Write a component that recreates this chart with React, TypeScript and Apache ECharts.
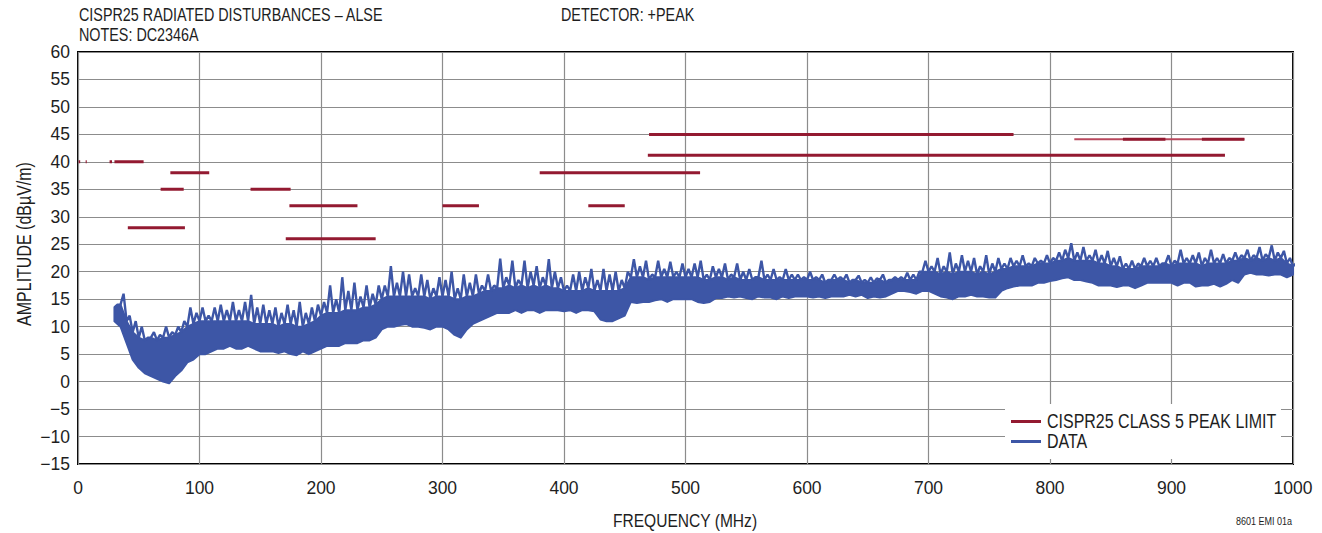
import React, { useEffect, useRef } from "react";
import * as echarts from "echarts";

// ---------- data ----------
const FREQ_START = 30; // MHz
const FREQ_STEP = 5; // MHz

// lower edge of the measured trace at each step
const dataLow = [
  11, 10, 7, 4, 2.5, 1.5, 1, 0.5, 0, -0.3,
  1, 2, 3.5, 4, 5, 5, 5.5, 6, 6, 6.5,
  6, 6, 6.5, 6, 5.5, 5.5, 5.5, 5.2, 5.5, 5,
  4.8, 5.5, 5, 5.5, 6, 6.5, 6.5, 6.5, 7, 7,
  7, 7.5, 7.5, 8, 9.5, 10, 10, 10.3, 10.5, 10,
  10, 9.8, 9.5, 10, 10, 9.5, 8.5, 8, 9.5, 10.5,
  11, 11.5, 12, 12.5, 12.5, 12.5, 13, 12.5, 13, 13,
  12.5, 13, 13, 13, 12.8, 13, 12.5, 13, 13, 12.8,
  11.3, 11, 11, 11.5, 12, 14.5, 14.3, 14.5, 14.5, 14.8,
  15, 14.5, 15, 15, 15, 15, 14.5, 14.3, 14.5, 15.2,
  15.2, 15.5, 15.3, 15.5, 15.2, 15, 15.5, 15.3, 15.3, 15,
  15.5, 15.2, 15.5, 15.5, 15.5, 15.3, 15.5, 15.2, 15.5, 15.5,
  15.5, 15.8, 15.5, 15.8, 15.2, 15.5, 15.3, 15.5, 16, 16.5,
  16.5, 16.3, 16, 16.5, 16.5, 16, 15.5, 15.3, 15, 15.5,
  15.5, 15.8, 15.5, 15.5, 15.3, 15.3, 16.5, 17, 17.3, 17.5,
  17.5, 17.5, 18, 18, 18.3, 18.5, 18.8, 19, 18.5, 18.5,
  18.2, 18, 17.5, 17.5, 17.5, 17.2, 17.5, 17.5, 17, 17.5,
  18, 18, 18, 18, 18, 17.5, 18, 18, 17.3, 17.5,
  17.5, 17.8, 17.3, 17.8, 18.5, 18, 19.5, 19.8, 19.5, 19.5,
  19.3, 19.5, 19.5, 19, 19.5,
];

// top of the dense (solid-looking) part of the trace at each step
const dataBandTop = [
  13.5, 14, 11, 9, 8, 7.5, 8, 7.5, 8, 8,
  8.5, 9, 10, 10.5, 11, 11, 11, 11, 11, 11,
  11, 11, 11, 10.5, 10.5, 10.5, 10.5, 10, 10.5, 10.5,
  10, 10, 10.5, 11, 12, 12.5, 12.5, 12.5, 13, 13,
  13, 13.5, 13.5, 14, 15, 15.5, 15.5, 15.5, 15.5, 15.5,
  15.5, 15.5, 15, 15.5, 15.5, 15.5, 15, 15, 15.5, 15.5,
  16, 16.5, 16.5, 17, 17, 17.5, 17, 17.5, 17, 17.5,
  17, 17.5, 17, 17, 16.5, 16.5, 16.5, 16.5, 17, 16.5,
  16.5, 16.5, 16.5, 16.5, 17, 19, 19, 19, 18.5, 19,
  19, 19, 19, 19, 19, 19, 19, 18.5, 18.5, 19,
  19, 18.5, 19, 18.5, 18.5, 18.5, 19, 18.5, 18.5, 18.5,
  18.5, 18.5, 18.5, 18.5, 18.5, 18.5, 18.5, 18, 18.5, 18.5,
  18.5, 18, 18.5, 18, 18, 18, 18.5, 18, 18.5, 18.5,
  18.5, 18.5, 18.5, 20, 20, 20, 19.5, 20, 19.5, 20,
  20, 20, 19.5, 20, 19.5, 20, 20.5, 20.5, 21, 21,
  21, 21, 21.5, 21.5, 21.5, 22, 22, 22.5, 22, 22,
  22, 22, 21.5, 21.5, 21, 21, 20.5, 20.5, 20.5, 21,
  21, 21, 21, 21.5, 21, 21.5, 21.5, 21.5, 21.5, 21,
  21.5, 21.5, 21.5, 21.5, 22, 22, 22.5, 22, 22.5, 22,
  22.5, 22, 22.5, 21.5, 21,
];

// peaks of the trace at each step
const dataHigh = [
  14, 16, 12, 11, 10, 8, 9, 8.5, 10, 9,
  10, 11, 13.5, 12.5, 13.5, 12, 13.5, 14, 13, 14.5,
  13, 14.5, 15.8, 13.5, 14, 13, 13.5, 12.5, 14, 13,
  14.5, 12.5, 13.5, 14, 14.5, 17.5, 15, 19, 16.5, 18,
  15.5, 17.5, 16, 17.5, 17.5, 21, 18, 20, 19.5, 17,
  19.5, 18.5, 17, 19, 18.5, 20, 17, 19.5, 18, 19.5,
  17.5, 19.5, 17.5, 22.4, 19, 22, 18.5, 22, 20, 21,
  19, 22.3, 20, 19, 17.5, 19.5, 20, 19, 20.5, 18.5,
  20.5, 19.5, 20, 18.5, 20, 22.3, 21, 22, 19.5, 22,
  20.5, 21.8, 20, 21.5, 20.5, 21.5, 22, 19.5, 21, 20.5,
  21.5, 19.5, 21.5, 20, 20.5, 19, 22, 19.5, 20.5, 19,
  20.5, 19.5, 19.5, 19, 20, 19, 19.5, 18.5, 19.5, 19,
  19.5, 18.5, 19.3, 18.5, 19, 18.8, 19.5, 18.5, 19, 19,
  19.8, 19.5, 20, 22, 21, 22.5, 21, 23.5, 21.5, 23,
  22, 22.5, 21, 23, 21.5, 22.5, 21.5, 22.5, 22, 23,
  21.5, 22.5, 22, 23, 22.5, 23.5, 24, 25.2, 23.5, 24.5,
  23, 24, 23, 23.8, 22.5, 22.8, 21.5, 22, 21.5, 22.5,
  22, 22.5, 21.5, 23, 22, 24, 22.5, 23, 23.5, 22.5,
  24, 22.5, 23.2, 22.5, 23.5, 23, 24, 23, 24.5, 23.2,
  24.8, 23.5, 23.8, 22.5, 21.5,
];

// CISPR25 class 5 peak limit segments (MHz, dBµV/m)
const limitStart = [0.15, 0.53, 6.3, 26, 30, 41, 68, 76, 142, 171, 174, 300, 380, 420, 470, 469, 820, 860, 925];
const limitStop = [0.3, 1.8, 7.2, 28, 54, 88, 87, 108, 175, 245, 230, 330, 512, 450, 770, 944, 960, 895, 960];
const limitLevel = [40, 40, 40, 40, 40, 28, 35, 38, 35, 26, 32, 32, 38, 32, 45, 41.2, 44.1, 44.1, 44.1];
const limitFaint = [false, false, false, false, false, false, false, false, false, false, false, false, false, false, false, false, true, false, false];

const xTicks = [0, 1000, 100];
const yTicks = [-15, 60, 5];

const LIMIT_NAME = "CISPR25 CLASS 5 PEAK LIMIT";
const DATA_NAME = "DATA";

const FONT = '"Liberation Sans", Arial, sans-serif';
const NARROW = 0.82;
const TEXT_COLOR = "#1e1e1e";
const RED = "#931a31";
const BLUE = "#3d56a6";

function label(text: string, x: number, y: number, size: number, align = "left", extra: any = {}) {
  return {
    type: "text",
    x,
    y,
    scaleX: NARROW,
    z: 20,
    ...extra,
    style: {
      text,
      font: `${size}px ${FONT}`,
      fill: TEXT_COLOR,
      align,
      verticalAlign: "middle",
    },
  };
}

export default function App() {
  const ref = useRef<HTMLDivElement>(null);

  useEffect(() => {
    if (!ref.current) return;
    const chart = echarts.init(ref.current, undefined, { renderer: "svg" });

    const freqs = dataLow.map((_, i) => FREQ_START + i * FREQ_STEP);

    // spikes: from the top of the dense band up to each peak and back
    const spikes: number[][] = [];
    for (let i = 0; i < freqs.length; i++) {
      spikes.push([freqs[i], dataBandTop[i]]);
      spikes.push([freqs[i] + FREQ_STEP / 2, dataHigh[i]]);
    }

    const limitSeries = limitStart.map((s, i) => ({
      name: LIMIT_NAME,
      type: "line" as const,
      data: [
        [s, limitLevel[i]],
        [limitStop[i], limitLevel[i]],
      ],
      symbol: "none",
      color: RED,
      lineStyle: {
        color: limitFaint[i] ? "#b8485d" : RED,
        width: limitFaint[i] ? 2 : 3,
      },
      z: 5,
    }));

    chart.setOption({
      animation: false,
      grid: {
        left: 78,
        right: 29,
        top: 52,
        bottom: 69,
        show: true,
        borderColor: "#000",
        borderWidth: 2,
        backgroundColor: "transparent",
      },
      xAxis: {
        type: "value",
        min: xTicks[0],
        max: xTicks[1],
        interval: xTicks[2],
        axisLine: { show: false },
        axisTick: { show: false },
        splitLine: { show: true, lineStyle: { color: "#8c8c8c", width: 1.2 } },
        axisLabel: {
          fontFamily: FONT,
          fontSize: 17.5,
          color: TEXT_COLOR,
          margin: 15,
          formatter: (v: number) => String(v),
        },
      },
      yAxis: {
        type: "value",
        min: yTicks[0],
        max: yTicks[1],
        interval: yTicks[2],
        axisLine: { show: false },
        axisTick: { show: false },
        splitLine: { show: true, lineStyle: { color: "#8c8c8c", width: 1.2 } },
        axisLabel: {
          fontFamily: FONT,
          fontSize: 17.5,
          color: TEXT_COLOR,
          margin: 8,
          formatter: (v: number) => String(v).replace("-", "\u2212"),
        },
      },
      graphic: [
        label("CISPR25 RADIATED DISTURBANCES \u2013 ALSE", 79, 15, 17.5),
        label("NOTES: DC2346A", 79, 34.5, 17.5),
        label("DETECTOR: +PEAK", 561, 15, 17.5),
        label("AMPLITUDE (dB\u00b5V/m)", 24, 244, 19.5, "center", { rotation: Math.PI / 2 }),
        label("FREQUENCY (MHz)", 685, 520, 19, "center"),
        label("8601 EMI 01a", 1292, 521, 11, "right"),
        // legend
        {
          type: "rect",
          z: 18,
          shape: { x: 1005, y: 404, width: 276, height: 55 },
          style: { fill: "#fff" },
        },
        {
          type: "rect",
          z: 19,
          shape: { x: 1011, y: 420, width: 30, height: 3 },
          style: { fill: RED },
        },
        {
          type: "rect",
          z: 19,
          shape: { x: 1011, y: 440, width: 30, height: 3 },
          style: { fill: BLUE },
        },
        label(LIMIT_NAME, 1047, 421.5, 19.5),
        label(DATA_NAME, 1047, 441.5, 19.5),
      ],
      series: [
        ...limitSeries,
        {
          name: DATA_NAME,
          type: "custom",
          data: [[freqs[0], dataLow[0]]],
          z: 3,
          renderItem: (_params: any, api: any) => {
            const pts: number[][] = [];
            for (let i = 0; i < freqs.length; i++) pts.push(api.coord([freqs[i], dataBandTop[i]]));
            for (let i = freqs.length - 1; i >= 0; i--) pts.push(api.coord([freqs[i], dataLow[i]]));
            return {
              type: "polygon",
              shape: { points: pts },
              style: { fill: BLUE, stroke: BLUE, lineWidth: 2, lineJoin: "round" },
            };
          },
        },
        {
          name: DATA_NAME,
          type: "line",
          data: spikes,
          symbol: "none",
          color: BLUE,
          lineStyle: { color: BLUE, width: 2.4 },
          z: 3,
        },
      ],
    });

    return () => chart.dispose();
  }, []);

  return (
    <div
      ref={ref}
      style={{ position: "absolute", left: 0, top: 0, width: 1322, height: 533 }}
    />
  );
}
